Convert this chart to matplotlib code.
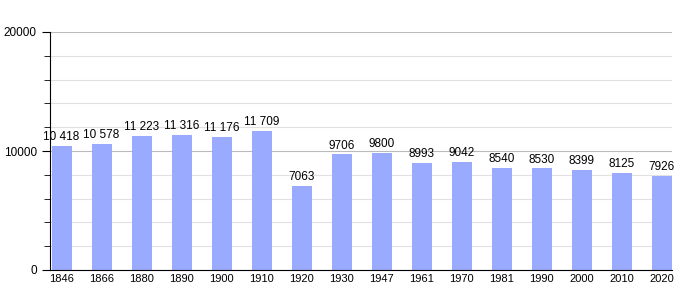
import numpy as np
import matplotlib
matplotlib.use("Agg")
import matplotlib.pyplot as plt
from matplotlib.ticker import MultipleLocator

years = ["1846", "1866", "1880", "1890", "1900", "1910", "1920", "1930",
         "1947", "1961", "1970", "1981", "1990", "2000", "2010", "2020"]
population = [10418, 10578, 11223, 11316, 11176, 11709, 7063, 9706,
              9800, 8993, 9042, 8540, 8530, 8399, 8125, 7926]
labels = ["10 418", "10 578", "11 223", "11 316", "11 176", "11 709", "7063", "9706",
          "9800", "8993", "9042", "8540", "8530", "8399", "8125", "7926"]

plt.rcParams["font.family"] = ["Liberation Sans", "DejaVu Sans"]

fig = plt.figure(figsize=(7, 3), dpi=100)
ax = fig.add_axes([50/700, 30/300, 622/700, 238/300])

x = np.arange(len(years))
ax.bar(x, population, width=0.5, color="#99aaff", zorder=2)
for xi, v, lab in zip(x, population, labels):
    ax.text(xi, v + 250, lab, ha="center", va="bottom", fontsize=8.5, color="black")

ax.set_xlim(-0.29, len(years) - 1 + 0.26)
ax.set_ylim(0, 20000)
ax.set_xticks(x)
ax.set_xticklabels(years, fontsize=8)
ax.tick_params(axis="x", length=0, pad=3)
ax.yaxis.set_major_locator(MultipleLocator(10000))
ax.yaxis.set_minor_locator(MultipleLocator(2000))
ax.tick_params(axis="y", which="major", length=6, labelsize=8.5)
ax.tick_params(axis="y", which="minor", length=4)
ax.grid(axis="y", which="major", color="#bbbbbb", linewidth=0.8, zorder=0)
ax.grid(axis="y", which="minor", color="#e2e2e2", linewidth=0.8, zorder=0)
ax.spines["top"].set_visible(False)
ax.spines["right"].set_visible(False)

fig.savefig("out.png")
